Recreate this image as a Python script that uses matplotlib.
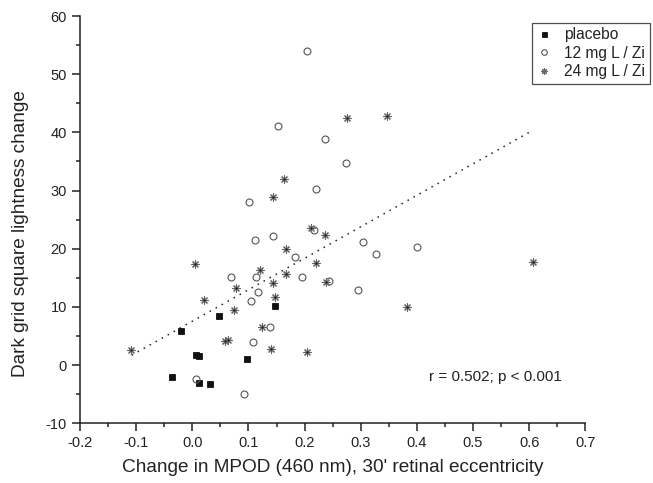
import matplotlib
matplotlib.use("Agg")
import matplotlib.pyplot as plt
import numpy as np

plt.rcParams['font.family'] = ['Liberation Sans', 'DejaVu Sans']

# ---- data ----
placebo_x = [-0.020, 0.048, 0.147, 0.007, 0.012, 0.098, -0.036, 0.012, 0.032]
placebo_y = [5.8, 8.4, 10.1, 1.7, 1.5, 1.1, -2.1, -3.1, -3.25]

mg12_x = [0.205, 0.153, 0.236, 0.274, 0.221, 0.101, 0.217, 0.304, 0.328, 0.400,
          0.112, 0.144, 0.183, 0.069, 0.114, 0.196, 0.243, 0.295, 0.117, 0.105,
          0.138, 0.109, 0.006, 0.092]
mg12_y = [53.9, 41.1, 38.8, 34.7, 30.3, 28.0, 23.2, 21.2, 19.05, 20.3,
          21.5, 22.2, 18.65, 15.1, 15.1, 15.1, 14.5, 12.97, 12.5, 11.1,
          6.5, 4.05, -2.4, -5.0]

mg24_x = [0.275, 0.346, 0.164, 0.143, 0.212, 0.237, 0.167, 0.221, 0.005, 0.121,
          0.167, 0.144, 0.239, 0.078, 0.021, 0.147, 0.075, 0.124, 0.059, 0.064,
          0.140, 0.205, -0.109, 0.607, 0.382]
mg24_y = [42.4, 42.8, 32.0, 28.9, 23.5, 22.3, 19.9, 17.5, 17.4, 16.4,
          15.7, 14.1, 14.2, 13.2, 11.2, 11.7, 9.5, 6.5, 4.1, 4.25,
          2.8, 2.27, 2.56, 17.8, 10.0]

fit_x = [-0.108, 0.600]
fit_y = [1.7, 40.0]

xticks = [-0.2, -0.1, 0.0, 0.1, 0.2, 0.3, 0.4, 0.5, 0.6, 0.7]
yticks = [-10, 0, 10, 20, 30, 40, 50, 60]

annot_text = "r = 0.502; p < 0.001"
labels = ["placebo", "12 mg L / Zi", "24 mg L / Zi"]

# ---- figure ----
W, H = 653, 483
fig = plt.figure(figsize=(W / 100, H / 100), dpi=100)
ax = fig.add_axes([80 / W, 1 - 423.3 / H, (585.3 - 80) / W, (423.3 - 16) / H])

axis_color = '#222222'

ax.plot(fit_x, fit_y, linestyle=(0, (1, 3.5)), color='#222222', lw=1.1, zorder=1)

ax.plot(placebo_x, placebo_y, linestyle='none', marker='s', ms=4.5,
        mfc='#111111', mec='#111111', mew=0.6, label=labels[0], zorder=3)
ax.plot(mg12_x, mg12_y, linestyle='none', marker='o', ms=5,
        mfc='none', mec='#555555', mew=0.8, label=labels[1], zorder=3)
ax.plot(mg24_x, mg24_y, linestyle='none', marker=(8, 2, 0), ms=5.8,
        mfc='none', mec='#666666', mew=0.8, label=labels[2], zorder=3)
ax.plot(mg24_x, mg24_y, linestyle='none', marker='o', ms=1.4,
        mfc='#111111', mec='#111111', mew=0, zorder=4)

ax.set_xlim(-0.2, 0.7)
ax.set_ylim(-10, 60)
ax.set_xticks(xticks)
ax.set_xticklabels([f"{v:.1f}" for v in xticks])
ax.set_yticks(yticks)
ax.set_yticklabels([str(v) for v in yticks])
ax.set_xticks(np.arange(-0.15, 0.7, 0.1), minor=True)
ax.set_yticks(np.arange(-5, 60, 10), minor=True)

for s in ['top', 'right']:
    ax.spines[s].set_visible(False)
for s in ['left', 'bottom']:
    ax.spines[s].set_color(axis_color)
    ax.spines[s].set_linewidth(1.1)

ax.tick_params(which='major', direction='out', length=6, width=1.1,
               color=axis_color, labelsize=10.5, labelcolor='#222222', pad=3.5)
ax.tick_params(which='minor', direction='out', length=3, width=1.1,
               color=axis_color)

ax.set_xlabel("Change in MPOD (460 nm), 30' retinal eccentricity",
              fontsize=13.7, color='#222222', labelpad=6)
ax.set_ylabel("Dark grid square lightness change", fontsize=13.7,
              color='#222222')
ax.yaxis.set_label_coords(-0.101, 0.467)

ax.text(0.421, -2.8, annot_text, fontsize=11, color='#222222',
        ha='left', va='baseline')

leg = fig.legend(loc='upper right', bbox_to_anchor=(650 / W, 1 - 22.7 / H),
                 frameon=True, fancybox=False, fontsize=11.2,
                 borderaxespad=0, handlelength=1.0, handletextpad=0.8,
                 labelspacing=0.22, borderpad=0.3, markerscale=0.8)
leg.get_frame().set_edgecolor('#222222')
leg.get_frame().set_linewidth(0.9)
for t in leg.get_texts():
    t.set_color('#222222')

fig.savefig("out.png", dpi=100)
